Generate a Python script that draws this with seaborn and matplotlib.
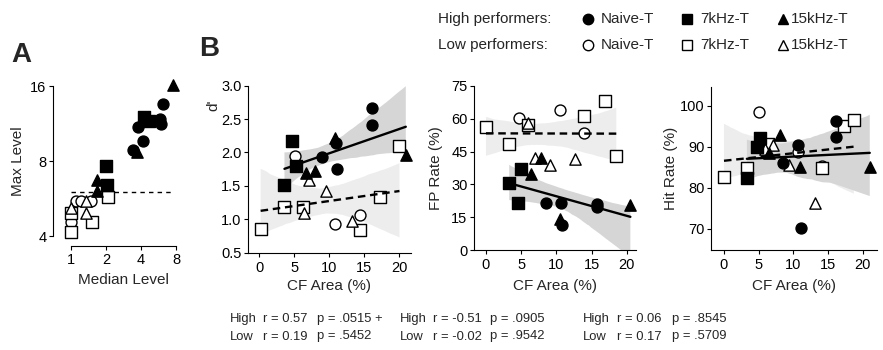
import numpy as np
import pandas as pd
import matplotlib
matplotlib.use("Agg")
import matplotlib.pyplot as plt
import matplotlib.font_manager as fm
import seaborn as sns
from matplotlib.lines import Line2D
from matplotlib.ticker import FixedLocator, FixedFormatter, NullLocator

# ---------------- data ----------------
STRAINS = ["Naive-T", "7kHz-T", "15kHz-T"]
PERFS = ["Low", "High"]

# Panel A : median level vs max level (log2 axes)
A_high_naive_x = [6.22, 5.83, 5.90, 3.79, 4.14, 3.39]
A_high_naive_y = [13.6, 11.76, 11.26, 10.98, 9.62, 8.86]
A_high_7k_x = [4.24, 4.72, 2.00, 2.03]
A_high_7k_y = [12.03, 11.6, 7.64, 6.41]
A_high_15k_x = [7.58, 3.72, 1.66, 1.66]
A_high_15k_y = [16.1, 8.7, 6.71, 6.07]
A_low_naive_x = [1.10, 1.22, 1.49, 1.0, 1.0]
A_low_naive_y = [5.53, 5.53, 5.53, 4.78, 4.57]
A_low_7k_x = [2.09, 1.52, 1.0, 1.0]
A_low_7k_y = [5.75, 4.57, 4.96, 4.16]
A_low_15k_x = [1.34, 1.34, 1.0]
A_low_15k_y = [5.55, 4.93, 5.17]
A_threshold = 6.0
A_threshold_span = [1.0, 7.6]

# Panel B1 : d'
D_high_naive_x = [16.1, 16.1, 11.0, 8.9, 11.1]
D_high_naive_y = [2.67, 2.41, 2.14, 1.93, 1.75]
D_high_7k_x = [4.7, 5.3, 3.6]
D_high_7k_y = [2.17, 1.80, 1.51]
D_high_15k_x = [6.7, 8.0, 10.8, 20.9]
D_high_15k_y = [1.69, 1.73, 2.22, 1.96]
D_low_naive_x = [5.1, 10.8, 14.3]
D_low_naive_y = [1.95, 0.93, 1.07]
D_low_7k_x = [0.2, 3.6, 6.3, 14.3, 17.2, 20.0]
D_low_7k_y = [0.85, 1.19, 1.19, 0.84, 1.33, 2.09]
D_low_15k_x = [7.1, 6.4, 9.5, 13.2]
D_low_15k_y = [1.59, 1.10, 1.42, 0.98]

# Panel B2 : FP rate (%)
F_high_naive_x = [8.5, 10.6, 10.85, 15.8, 15.8]
F_high_naive_y = [21.7, 21.4, 11.5, 21.0, 19.6]
F_high_7k_x = [3.3, 5.0, 4.5]
F_high_7k_y = [30.8, 37.0, 21.4]
F_high_15k_x = [6.4, 7.8, 10.5, 20.5]
F_high_15k_y = [34.8, 41.9, 14.1, 20.6]
F_low_naive_x = [4.7, 10.5, 13.9]
F_low_naive_y = [60.4, 63.9, 53.6]
F_low_7k_x = [0.0, 3.3, 5.9, 13.9, 16.9, 18.5]
F_low_7k_y = [56.3, 48.4, 57.1, 61.2, 68.0, 43.0]
F_low_15k_x = [6.0, 7.0, 9.1, 12.7]
F_low_15k_y = [57.8, 41.9, 38.9, 41.4]

# Panel B3 : Hit rate (%)
H_high_naive_x = [16.2, 16.2, 10.7, 8.55, 11.1]
H_high_naive_y = [96.3, 92.4, 90.4, 86.1, 70.1]
H_high_7k_x = [5.2, 4.7, 3.3]
H_high_7k_y = [92.0, 90.0, 82.3]
H_high_15k_x = [8.0, 6.5, 10.9, 21.0]
H_high_15k_y = [92.9, 88.5, 85.1, 85.0]
H_low_naive_x = [5.0, 10.7, 14.1]
H_low_naive_y = [98.5, 88.8, 85.3]
H_low_7k_x = [0.0, 3.3, 6.4, 14.1, 17.3, 18.7]
H_low_7k_y = [82.5, 84.7, 90.7, 84.7, 94.9, 96.5]
H_low_15k_x = [7.1, 5.9, 9.4, 13.1]
H_low_15k_y = [90.4, 89.3, 85.5, 76.3]

STATS = {
    "d": [("High", "r = 0.57", "p = .0515 +"), ("Low", "r = 0.19", "p = .5452")],
    "F": [("High", "r = -0.51", "p = .0905"), ("Low", "r = -0.02", "p = .9542")],
    "H": [("High", "r = 0.06", "p = .8545"), ("Low", "r = 0.17", "p = .5709")],
}


def make_df(prefix):
    g = globals()
    rows = []
    for perf in ["high", "low"]:
        for key, strain in zip(["naive", "7k", "15k"], STRAINS):
            xs = g[f"{prefix}_{perf}_{key}_x"]
            ys = g[f"{prefix}_{perf}_{key}_y"]
            for x, y in zip(xs, ys):
                rows.append(dict(x=x, y=y, perf=perf.capitalize(), strain=strain))
    return pd.DataFrame(rows)


# ---------------- style ----------------
sns.set_style("ticks")
plt.rcParams["font.family"] = ["Liberation Sans", "DejaVu Sans"]
plt.rcParams["axes.linewidth"] = 0.8
plt.rcParams["xtick.major.width"] = 0.8
plt.rcParams["ytick.major.width"] = 0.8
plt.rcParams["xtick.major.size"] = 3.2
plt.rcParams["ytick.major.size"] = 3.2
plt.rcParams["xtick.major.pad"] = 2.6
plt.rcParams["ytick.major.pad"] = 1.5
plt.rcParams["xtick.labelsize"] = 10.5
plt.rcParams["ytick.labelsize"] = 10.5
plt.rcParams["axes.labelsize"] = 11
plt.rcParams["axes.edgecolor"] = "black"
plt.rcParams["xtick.color"] = "black"
plt.rcParams["ytick.color"] = "black"

# narrow font for the statistics lines, if available
try:
    fm.findfont(fm.FontProperties(family="Liberation Sans Narrow"), fallback_to_default=False)
    STAT_FONT = dict(family=["Liberation Sans Narrow", "Liberation Sans"], fontsize=11)
except Exception:
    STAT_FONT = dict(family=["Liberation Sans", "DejaVu Sans"], fontsize=9.4)

MARKERS = {"Naive-T": "o", "7kHz-T": "s", "15kHz-T": "^"}
SIZES = {"Naive-T": 62, "7kHz-T": 66, "15kHz-T": 66}
BAND = {"High": "#d6d6d6", "Low": "#ededed"}
LS = {"High": "-", "Low": (0, (3.2, 2.0))}

W, H = 883, 350
fig = plt.figure(figsize=(W / 100, H / 100), dpi=100)


def px_axes(l, r, t, b):
    return fig.add_axes([l / W, 1 - b / H, (r - l) / W, (b - t) / H])


def draw_points(ax, df):
    for perf in PERFS:
        for strain in STRAINS:
            sub = df[(df.perf == perf) & (df.strain == strain)]
            if sub.empty:
                continue
            sns.scatterplot(data=sub, x="x", y="y", ax=ax, marker=MARKERS[strain],
                            s=SIZES[strain], color="black" if perf == "High" else "white",
                            edgecolor="black", linewidth=1.0, zorder=3, clip_on=False,
                            legend=False)


def draw_fits(ax, df):
    for i, perf in enumerate(PERFS):
        sub = df[df.perf == perf]
        n0 = len(ax.collections)
        sns.regplot(data=sub, x="x", y="y", ax=ax, scatter=False, color="black",
                    ci=95, seed=0, truncate=True,
                    line_kws=dict(lw=1.7, ls=LS[perf], zorder=4))
        for c in ax.collections[n0:]:
            c.set_facecolor(BAND[perf])
            c.set_alpha(1)
            c.set_edgecolor("none")
            c.set_zorder(0.5 + 0.1 * i)


def label_at(ax, axis, text, px, py, rect):
    l, r, t, b = rect
    fx = (px - l) / (r - l)
    fy = (b - py) / (b - t)
    if axis == "y":
        ax.set_ylabel(text)
        lab = ax.yaxis.label
    else:
        ax.set_xlabel(text)
        lab = ax.xaxis.label
    lab.set_verticalalignment("center")
    lab.set_horizontalalignment("center")
    lab.set_rotation_mode("anchor")
    (ax.yaxis if axis == "y" else ax.xaxis).set_label_coords(fx, fy)


# ---------------- Panel A ----------------
rectA = (53, 180, 78, 246)
axA = px_axes(*rectA)
dfA = make_df("A")
draw_points(axA, dfA)
axA.hlines(A_threshold, *A_threshold_span, colors="black", lw=1.0,
           linestyles=[(0, (3.2, 3.0))], zorder=2)
axA.set_xscale("log", base=2)
axA.set_yscale("log", base=2)
axA.set_xlim(2 ** (-0.514), 2 ** 3.114)
axA.set_ylim(2 ** 1.867, 2 ** 4.107)
axA.xaxis.set_major_locator(FixedLocator([1, 2, 4, 8]))
axA.xaxis.set_major_formatter(FixedFormatter(["1", "2", "4", "8"]))
axA.xaxis.set_minor_locator(NullLocator())
axA.yaxis.set_major_locator(FixedLocator([4, 8, 16]))
axA.yaxis.set_major_formatter(FixedFormatter(["4", "8", "16"]))
axA.yaxis.set_minor_locator(NullLocator())
axA.tick_params(axis="x", pad=1.6)
sns.despine(ax=axA)
axA.spines["left"].set_bounds(4, 16)
axA.spines["bottom"].set_bounds(1, 8)
label_at(axA, "y", "Max Level", 18, 161, rectA)
label_at(axA, "x", "Median Level", 123, 280, rectA)

# ---------------- Panels B ----------------
specs = [
    ("D", (248, 410.7, 85.7, 252.7), (-1.6, 21.6), (0.5, 3.0),
     [0.5, 1.0, 1.5, 2.0, 2.5, 3.0], ["0.5", "1.0", "1.5", "2.0", "2.5", "3.0"],
     "d'", (213.5, 105), "d"),
    ("F", (474, 636, 85.7, 250.3), (-1.7, 21.3), (0, 75),
     [0, 15, 30, 45, 60, 75], ["0", "15", "30", "45", "60", "75"],
     "FP Rate (%)", (436, 168), "F"),
    ("H", (711, 876.7, 86.7, 250), (-1.87, 22.0), (64.8, 104.6),
     [70, 80, 90, 100], ["70", "80", "90", "100"],
     "Hit Rate (%)", (671, 168), "H"),
]
stat_cols = {"d": (230, 263, 317), "F": (400, 433, 490), "H": (583, 617, 672)}

for prefix, rect, xlim, ylim, yt, ytl, ylab, ylpos, skey in specs:
    ax = px_axes(*rect)
    df = make_df(prefix)
    draw_fits(ax, df)
    draw_points(ax, df)
    ax.set_xlim(*xlim)
    ax.set_ylim(*ylim)
    ax.set_xticks([0, 5, 10, 15, 20])
    ax.set_xticklabels(["0", "5", "10", "15", "20"])
    ax.set_yticks(yt)
    ax.set_yticklabels(ytl)
    sns.despine(ax=ax)
    label_at(ax, "y", ylab, ylpos[0], ylpos[1], rect)
    label_at(ax, "x", "CF Area (%)", (rect[0] + rect[1]) / 2, 286, rect)
    cx = stat_cols[skey]
    for row, (g, r, p) in enumerate(STATS[skey]):
        yy = 1 - (319 + 17.5 * row) / H
        for xpx, t in zip(cx, (g, r, p)):
            fig.text(xpx / W, yy, t, ha="left", va="center", **STAT_FONT)

# ---------------- panel letters ----------------
fig.text(21 / W, 1 - 55.5 / H, "A", fontsize=20, fontweight="bold", ha="center", va="center")
fig.text(209 / W, 1 - 49 / H, "B", fontsize=20, fontweight="bold", ha="center", va="center")

# ---------------- legend ----------------
leg_rows = [("High performers:", "black", 19), ("Low performers:", "white", 45)]
mk_x = [588, 687, 783]
tx_x = [601, 700, 791]
for header, face, ypx in leg_rows:
    yy = 1 - ypx / H
    fig.text(438 / W, yy, header, fontsize=11, ha="left", va="center")
    for strain, mx, tx in zip(STRAINS, mk_x, tx_x):
        fig.add_artist(Line2D([mx / W], [yy], marker=MARKERS[strain], markersize=7.5,
                              markerfacecolor=face, markeredgecolor="black",
                              markeredgewidth=1.0, linestyle="none",
                              transform=fig.transFigure))
        fig.text(tx / W, yy, strain, fontsize=11, ha="left", va="center")

fig.savefig("out.png", dpi=100)
